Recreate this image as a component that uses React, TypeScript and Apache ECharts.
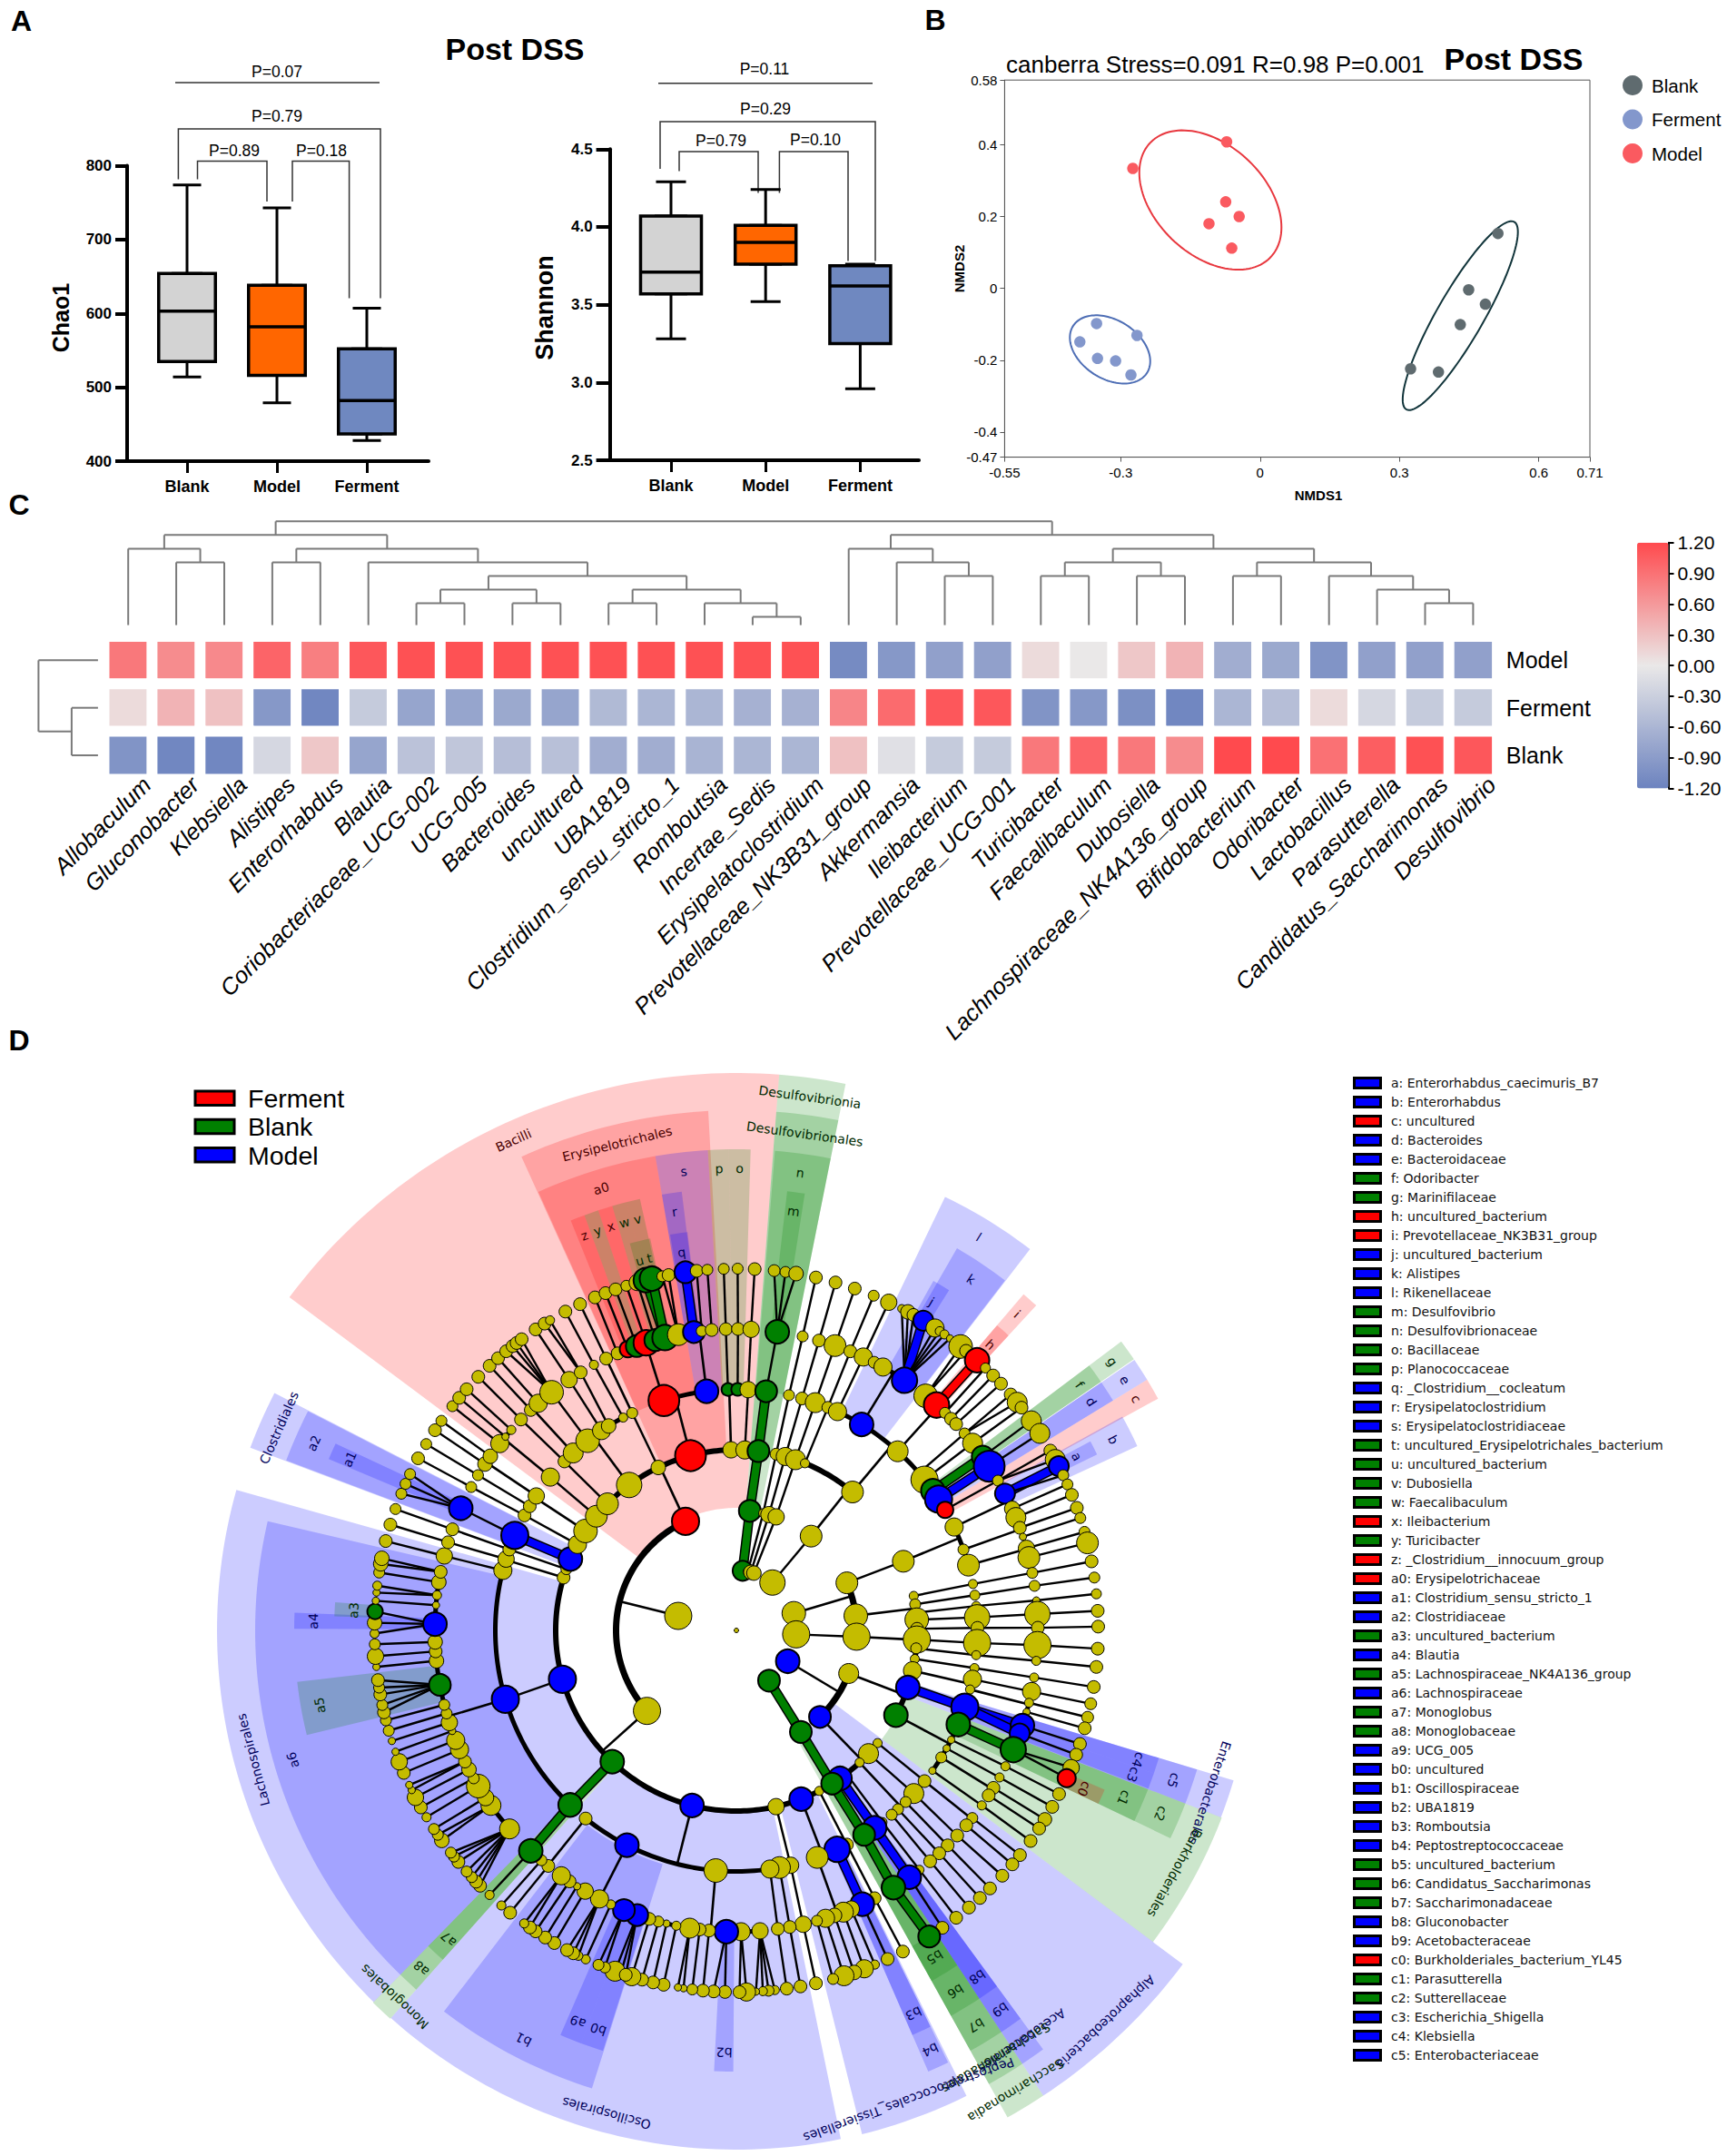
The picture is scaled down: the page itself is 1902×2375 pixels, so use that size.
import React, { useEffect, useRef } from "react";
import * as echarts from "echarts";

const FONT = "Liberation Sans";
const DEJA = "DejaVu Sans";

// ---------- Panel A ----------
const boxGroups = ["Blank", "Model", "Ferment"];
const boxColors = ["#D3D3D3", "#FF6600", "#6F88C0"];
// [low, q1, median, q3, high]
const chao1Stats = [
  [514, 535, 603, 654, 774],
  [479, 516, 582, 638, 743],
  [428, 437, 482, 552, 607],
];
const shannonStats = [
  [3.28, 3.57, 3.71, 4.07, 4.29],
  [3.52, 3.76, 3.9, 4.01, 4.24],
  [2.96, 3.25, 3.62, 3.75, 3.76],
];

// ---------- Panel B ----------
const nmdsModel = [[-0.274, 0.334], [-0.072, 0.408], [-0.074, 0.241], [-0.045, 0.2], [-0.11, 0.18], [-0.061, 0.112]];
const nmdsFerment = [[-0.352, -0.098], [-0.265, -0.131], [-0.388, -0.149], [-0.35, -0.195], [-0.311, -0.202], [-0.278, -0.241]];
const nmdsBlank = [[0.512, 0.153], [0.449, -0.004], [0.485, -0.044], [0.431, -0.101], [0.324, -0.224], [0.384, -0.233]];
// centre x, centre y, half-extent x, half-extent y, correlation, colour
const nmdsEllipses: any[] = [
  [-0.107, 0.246, 0.153, 0.194, -0.392, "#E8383F"],
  [-0.323, -0.17, 0.0865, 0.095, -0.347, "#4E6EB5"],
  [0.431, -0.076, 0.124, 0.263, 0.887, "#12353B"],
];
const nmdsXTicks = [-0.55, -0.3, 0, 0.3, 0.6, 0.71];
const nmdsYTicks = [-0.47, -0.4, -0.2, 0, 0.2, 0.4, 0.58];

// ---------- Panel C ----------
const genera = ["Allobaculum", "Gluconobacter", "Klebsiella", "Alistipes", "Enterorhabdus", "Blautia", "Coriobacteriaceae_UCG-002", "UCG-005", "Bacteroides", "uncultured", "UBA1819", "Clostridium_sensu_stricto_1", "Romboutsia", "Incertae_Sedis", "Erysipelatoclostridium", "Prevotellaceae_NK3B31_group", "Akkermansia", "Ileibacterium", "Prevotellaceae_UCG-001", "Turicibacter", "Faecalibaculum", "Dubosiella", "Lachnospiraceae_NK4A136_group", "Bifidobacterium", "Odoribacter", "Lactobacillus", "Parasutterella", "Candidatus_Saccharimonas", "Desulfovibrio"];
const heatRows = ["Model", "Ferment", "Blank"];
const heatModel = [0.85, 0.7, 0.72, 1.0, 0.8, 1.1, 1.15, 1.15, 1.15, 1.15, 1.15, 1.15, 1.15, 1.15, 1.15, -1.1, -0.95, -0.85, -0.85, 0.1, 0.0, 0.25, 0.4, -0.7, -0.75, -1.0, -0.85, -0.85, -0.85];
const heatFerment = [0.1, 0.4, 0.3, -0.95, -1.15, -0.35, -0.8, -0.8, -0.75, -0.8, -0.55, -0.6, -0.6, -0.65, -0.65, 0.75, 0.95, 1.1, 1.1, -1.0, -0.95, -1.05, -1.15, -0.6, -0.5, 0.1, -0.2, -0.35, -0.35];
const heatBlank = [-1.0, -1.15, -1.15, -0.2, 0.25, -0.8, -0.45, -0.4, -0.5, -0.48, -0.7, -0.7, -0.62, -0.6, -0.6, 0.3, -0.1, -0.35, -0.35, 0.85, 1.0, 0.85, 0.7, 1.2, 1.2, 0.9, 1.05, 1.15, 1.1];
const columnTree: any = [8,
  [7, [6, 0, [5, 1, 2]], [6, [5, 3, 4], [5, 5, [4, [3, [2, 6, 7], [2, 8, 9]], [3, [2, 10, 11], [2, 12, [1, 13, 14]]]]]]],
  [7, [6, 15, [5, 16, [4, 17, 18]]], [6, [5, [4, 19, 20], [4, 21, 22]], [5, [4, 23, 24], [4, 25, [3, 26, [2, 27, 28]]]]]],
];
const rowTree: any = [65.5, 0, [29, 1, 2]];

// ---------- Panel D : cladogram, [angle, size, colour, children]; upper-case colour = coloured branch ----------
type N = any[];
const cladeFirmicutes: N = [284, 30, "y", [
  [228, 30, "y", [
    [152.7, 10, "y", [[152.7, 14, "y", [[152.7, 14, "y", [[152.6, 14]]]]]]],
    [159, 26, "b", [
      [155.3, 28, "b", [[155.3, 26, "B", [[155.3, 14]]]]],
      [160.4, 24, "y", [[157.6, 18, "y", [[157.5, 10]]], [159.2, 22, "y", [[159.3, 20]]], [161, 16, "y", [[161, 16]]], [162.8, 20, "y", [[162.7, 22]]], [164.5, 12, "y", [[164.5, 12]]]]],
    ]],
    [167.3, 18, "y", [[167, 18, "y", [[167.2, 18, "y", [[167.3, 14]]]]]]],
    [194.2, 26, "b", [
      [169.7, 24, "y", [[169.8, 14, "y", [[169.8, 14]]]]],
      [172, 20, "y", [[172.1, 14, "y", [[172, 14]]]]],
      [184.9, 26, "y", [
        [175.5, 18, "y", [[173.9, 10], [174.9, 12], [175.8, 10], [176.9, 8]]],
        [179.1, 20, "y", [[178.4, 20], [179.5, 14]]],
        [181.9, 26, "b", [[181.8, 14], [183.6, 14]]],
        [185.2, 14, "y", [[185.3, 14]]],
        [187, 14, "y", [[187, 12]]],
        [188.9, 22, "y", [[188.4, 8], [189.3, 8]]],
      ]],
      [207, 26, "b", [
        [191.5, 10, "y", [[191.6, 14]]], [193.4, 8, "y", [[193.3, 14]]], [195, 12, "y", [[195.1, 14]]], [196.8, 14, "y", [[196.8, 20]]],
        [199.2, 24, "b", [[198.6, 14], [199.6, 22], [197.8, 14]]],
        [201.9, 24, "b", [[201.3, 12], [202.4, 12]]],
        [204.6, 10, "y", [[204.6, 10]]],
        [207, 20, "y", [[205.9, 10], [206.8, 14], [207.9, 14]]],
        [210.1, 18, "y", [[210.2, 14]]], [211.9, 8, "y", [[211.9, 14]]], [213.6, 14, "y", [[213.7, 14]]],
        [215.5, 20, "y", [[214.8, 14], [215.9, 10]]],
      ]],
      [218.7, 14, "y", [[218.6, 14, "y", [[218.7, 14]]], [220.3, 12, "y", [[220.5, 10]]]]],
    ]],
    [223.4, 26, "g", [[223.6, 26, "G", [[223, 26, "G", [[223, 10]]]]]]],
    [254.3, 30, "b", [[253.4, 30, "b", [
      [228.8, 22, "y", [[225.1, 14], [226, 14], [227, 12], [228.2, 12], [230.2, 14], [231.3, 12], [232.1, 12]]],
      [234.5, 22, "y", [[234.5, 16], [235.6, 12]]],
      [236.3, 18, "y", [[236.7, 12]]],
      [238.9, 26, "y", [[238.9, 10]]],
      [240.6, 12, "y", [[240.7, 14]]],
      [242.5, 16, "y", [[242.5, 18]]],
      [244.2, 14, "y", [[243.8, 8], [244.7, 8]]],
      [246.7, 20, "y", [[246.8, 14]]],
      [248.6, 20, "y", [[248.7, 18]]],
      [250.5, 8, "y", [[250.4, 8]]],
      [252.2, 18, "y", [[252.2, 8]]],
      [254, 12, "y", [[253.9, 12]]],
      [255.7, 12, "y", [[255.6, 12]]],
      [259.6, 24, "g", [[256.9, 14], [258.1, 12], [259.8, 14], [260.9, 12], [262.1, 14]]],
      [264.2, 16, "y", [[264.2, 8]]],
      [266, 14, "y", [[265.9, 18]]],
      [267.8, 16, "y", [[267.8, 12]]],
      [271.2, 26, "b", [[269.5, 10], [271.2, 16], [273, 17, "g"]]],
      [274.8, 8, "y", [[274.7, 8]]],
      [276.7, 10, "y", [[276, 8], [277.1, 10]]],
      [279.2, 16, "y", [[279.2, 12]]],
      [281.2, 14, "y", [[280.6, 16], [281.5, 16]]],
    ]]]],
    [287, 14, "y", [
      [284.4, 20, "y", [[284.3, 18, "y", [[284.3, 14]]]]],
      [287.2, 18, "y", [[287, 14, "y", [[287, 14]]]]],
    ]],
    [289.8, 12, "y", [[289.6, 14, "y", [[289.6, 14, "y", [[289.6, 12]]]]]]],
    [293.3, 26, "b", [[293.2, 30, "B", [[293.9, 26, "b", [[292.2, 12], [293.9, 12], [295.6, 12]]]]]]],
    [298.4, 20, "y", [[298.5, 14, "y", [[298.4, 12, "y", [[298.4, 14]]]]]]],
    [303.4, 26, "y", [
      [301, 14, "y", [[301, 12, "y", [[301, 12]]]]],
      [303.9, 18, "y", [[303.5, 16, "y", [[303.6, 14]]], [305.3, 16, "y", [[305.4, 12]]]]],
    ]],
  ]],
  [335, 30, "r", [
    [309.2, 24, "y", [[309.5, 20, "y", [[308.3, 20, "y", [[308.3, 12]]], [310, 8, "y", [[310, 14]]], [311.7, 10, "y", [[311.8, 14]]]]]]],
    [314.5, 24, "y", [[314.5, 14, "y", [[314.4, 14, "y", [[314.5, 14]]]]]]],
    [323.6, 28, "y", [
      [317.4, 22, "y", [[317, 14, "y", [[317, 14]]], [318.9, 20, "y", [[318.8, 14]]]]],
      [321.9, 26, "y", [[322.2, 26, "y", [[320.5, 14], [321.8, 14], [322.6, 14], [323.6, 14]]]]],
      [326, 20, "y", [[326.3, 18, "y", [[326.3, 14]]]]],
      [328, 16, "y", [[328.9, 14, "y", [[328, 14], [329, 10]]]]],
      [332, 10, "y", [[331.8, 10, "y", [[331.8, 14]]]]],
    ]],
    [334.4, 16, "y", [[334.4, 12, "y", [[334.4, 14, "y", [[334.4, 14]]], [336.8, 14, "y", [[337, 14]]]]]]],
    [345.3, 34, "r", [
      [342.5, 34, "r", [
        [338.9, 18, "r", [[338.8, 14]]],
        [340.7, 24, "g", [[340.5, 14]]],
        [342.6, 28, "r", [[342.3, 12]]],
        [344.4, 24, "g", [[344.1, 18]]],
        [346.3, 28, "g", [[345.5, 27, "G"], [346.5, 27, "G"]]],
        [348.9, 24, "y", [[348.2, 12], [349.2, 14]]],
      ]],
      [352.9, 26, "b", [
        [351.9, 24, "b", [[351.9, 24, "B"]]],
        [353.4, 12, "y", [[353.7, 14]]],
        [355.3, 14, "y", [[355.4, 12]]],
      ]],
    ]],
    [358.3, 18, "y", [
      [358, 14, "g", [[358, 14, "y", [[358, 12]]]]],
      [360.3, 14, "g", [[360.3, 14, "y", [[360.2, 12]]]]],
    ]],
    [362.7, 20, "y", [[362.8, 18, "y", [[362.8, 18, "y", [[362.9, 14]]]]]]],
  ]],
]];
const cladeDesulfo: N = [6, 22, "g", [[6.4, 24, "G", [[7, 24, "G", [[7.1, 24, "G", [[7.8, 26, "g", [[6, 13], [7.8, 12], [9.5, 16]]]]]]]]]]];
const cladeSmallA: N = [11, 10, "y", [[12.9, 10, "y", [[12.7, 13, "y", [[12.6, 12, "y", [[12.7, 12, "y", [[12.7, 14]]]]]]]]]]];
const cladeSmallB: N = [14, 16, "y", [[15.7, 18, "y", [[15.7, 20, "y", [[15.8, 14, "y", [[15.9, 14, "y", [[15.9, 14]]]]]]]]]]];
const cladeSmallC: N = [17, 16, "y", [[19.3, 18, "y", [[19.1, 22, "y", [[19.1, 22, "y", [[19.1, 24, "y", [[19.1, 14]]]]]]]]]]];
const cladeBacteroidetes: N = [37, 28, "y", [[38.4, 24, "y", [
  [22.3, 10, "y", [[22.3, 13, "y", [[22.2, 14, "y", [[22.3, 12]]]]]]],
  [40, 24, "y", [
    [24.8, 20, "y", [[24.9, 20, "y", [[24.9, 18]]]]],
    [31.3, 26, "b", [
      [27.2, 13],
      [29.1, 20],
      [33.9, 28, "b", [[27.2, 9], [28.3, 16], [29.3, 14], [31.1, 22, "B"], [33.3, 20], [34.2, 10], [35.1, 10], [36.2, 8]]],
    ]],
    [42, 23, "y", [
      [38.9, 26, "y", [[38.3, 26], [39.4, 14]]],
      [41.6, 28, "r", [[41.7, 27, "R"]]],
      [43.8, 12, "y", [[43.5, 11]]],
      [45.4, 14, "y", [[45.2, 14]]],
      [46.8, 14, "y", [[47, 14]]],
    ]],
    [49.2, 10, "y", [[49.2, 12, "y", [[49.3, 14], [50.9, 22]]]]],
    [51.3, 30, "y", [[51.6, 22, "y", [[52, 14]]]]],
    [54.6, 26, "g", [[54.8, 24, "G", [[54.6, 22]]]]],
    [57, 30, "b", [[57, 34, "B", [[57, 22]]]]],
    [60, 18, "r", [[60.2, 12, "y", [[60.2, 14], [61.8, 22]]]]],
  ]],
]]]];
const cladeActino: N = [73.4, 26, "y", [
  [66.7, 24, "y", [[67.5, 24, "y", [
    [64.6, 20, "y", [
      [63, 22, "b", [[63, 22, "B"], [64.6, 12]]],
      [66.2, 17, "y", [[66.2, 12]]],
      [68, 22, "y", [[68, 14]]],
    ]],
    [70.4, 12, "y", [[70.1, 14, "y", [[70.2, 14]]], [71.9, 8, "y", [[71.9, 12]]]]],
    [74.3, 24, "y", [[74.2, 18, "y", [[74.2, 12]]], [76, 24, "y", [[76, 24]]]]],
  ]]]],
  [83, 26, "y", [
    [79, 10, "y", [[78.9, 10, "y", [[79, 12, "y", [[79, 14]]]]]]],
    [81.7, 12, "y", [[81.6, 11, "y", [[81.5, 12, "y", [[81.6, 12]]]]]]],
    [84.4, 10, "y", [[84.2, 10, "y", [[84.3, 8, "y", [[84.2, 11]]]]]]],
    [86.6, 26, "y", [[86.9, 28, "y", [[86.9, 28, "y", [[86.9, 14]]]]]]],
    [89.5, 14, "y", [[89.4, 14, "y", [[89.5, 14, "y", [[89.4, 14]]]]]]],
  ]],
]];
const cladeVerruco: N = [93.8, 30, "y", [[93, 30, "y", [
  [92.9, 30, "y", [[93, 30, "y", [[92.8, 30, "y", [[92.9, 14]]]]]]],
  [95.7, 12, "y", [[95.9, 10, "y", [[95.8, 10, "y", [[95.8, 14]]]]]]],
  [99.1, 10, "y", [[99, 10, "y", [[99, 10, "y", [[99, 14]]]]]]],
  [102.9, 20, "y", [
    [101.7, 20, "y", [[101.7, 20, "y", [[101.7, 13]]]]],
    [104.2, 10, "y", [[103.9, 10, "y", [[103.9, 13]]], [105.7, 8, "y", [[105.7, 14]]]]],
  ]],
]]]];
const cladeProteo: N = [121, 26, "b", [
  [111, 22, "y", [
    [108.4, 26, "b", [[108.6, 30, "B", [[108.4, 26, "B", [[108.3, 14]]], [110, 22, "B", [[110.1, 14]]]]]]],
    [118, 26, "g", [
      [113, 26, "g", [[113.3, 28, "G", [[112.3, 18], [114.1, 20, "r"]]]]],
      [117, 8, "y", [[116.8, 10, "y", [[116.9, 14]]]]],
      [119.3, 8, "y", [[119.2, 10, "y", [[119.2, 14]]]]],
      [121.8, 12, "y", [[121.5, 14, "y", [[121.5, 15]]], [123.2, 14, "y", [[123.2, 14]]]]],
      [125.6, 8, "y", [[125.5, 10, "y", [[125.6, 14]]]]],
    ]],
  ]],
  [136, 24, "b", [
    [128.6, 10, "y", [[128.7, 14, "y", [[128.5, 12, "y", [[128.4, 14]]], [130.3, 14, "y", [[130.3, 14]]]]]]],
    [133, 22, "y", [[132.6, 22, "y", [[132.9, 14, "y", [[132.7, 14]]]]]]],
    [137, 10, "y", [
      [135.4, 12, "y", [[135.5, 14, "y", [[135.5, 14]]]]],
      [137.9, 12, "y", [[137.7, 14, "y", [[137.7, 14]]]]],
      [139.9, 12, "y", [[140, 14, "y", [[140, 14]]]]],
    ]],
    [142.5, 10, "y", [[142.7, 10, "y", [[142.6, 10, "y", [[142.6, 14]]]]]]],
    [145, 26, "b", [[145, 26, "B", [[145, 26, "B", [[145.3, 14]]]]]]],
  ]],
]];
const cladeSaccharibacteria: N = [147, 24, "g", [[147.6, 24, "G", [[148, 24, "G", [[148, 24, "G", [[148.6, 26, "G", [[147.8, 24, "G"]]]]]]]]]]];
const cladeTrees: N[] = [cladeFirmicutes, cladeDesulfo, cladeSmallA, cladeSmallB, cladeSmallC, cladeBacteroidetes, cladeActino, cladeVerruco, cladeProteo, cladeSaccharibacteria];
// ring radius, start angle, end angle, width of the extra family-level arcs
const cladeRingArcs = [[265.5, 224, 284.4, 5]];

// name, start angle, end angle, inner radius, outer radius, colour
const cladeSectors: any[] = [
  ["Bacilli", -53.3, 4.4, 135, 614, "r"], ["Desulfovibrionia", 4.4, 11.3, 135, 614, "g"],
  ["Erysipelotrichales", -24.4, -3.1, 200, 573, "r"], ["Desulfovibrionales", 4.4, 11.3, 200, 573, "g"],
  ["a0", -24.3, -9.7, 265, 530, "r"], ["s", -9.7, -3.4, 265, 530, "b"], ["p", -3.4, -0.9, 265, 530, "g"], ["o", -0.9, 1.7, 265, 530, "g"], ["n", 4.6, 11.3, 265, 530, "g"],
  ["z", -22, -20.1, 332, 487, "r"], ["y", -20.1, -18.2, 332, 487, "g"], ["x", -18.2, -16.3, 332, 487, "r"], ["w", -16.3, -14.4, 332, 487, "g"], ["v", -14.4, -12.6, 332, 487, "g"],
  ["u", -15.4, -13.9, 398, 442, "g"], ["t", -13.9, -12.4, 398, 442, "g"],
  ["r", -9.7, -7.1, 332, 487, "b"], ["q", -9.5, -7, 398, 442, "b"], ["m", 6.6, 8.9, 332, 487, "g"],
  ["l", 25.7, 37.6, 265, 530, "b"], ["k", 30, 37.5, 332, 486, "b"], ["j", 29.4, 32, 398, 442, "b"],
  ["i", 40.5, 42.7, 332, 487, "r"], ["h", 40.5, 42.7, 398, 442, "r"],
  ["g", 53.1, 55.7, 265, 530, "g"], ["f", 53.1, 55.7, 332, 486, "g"], ["e", 55.8, 58.6, 265, 530, "b"], ["d", 55.8, 58.6, 332, 486, "b"], ["c", 58.6, 61.2, 265, 530, "r"],
  ["b", 61, 65.3, 332, 486, "b"], ["a", 61.9, 64, 398, 442, "b"],
  ["Enterobacterales", 106.8, 111.1, 200, 572, "b"], ["c5", 106.8, 111.1, 265, 530, "b"], ["c4", 106.8, 108.9, 332, 486, "b"], ["c3", 108.9, 111, 332, 486, "b"],
  ["Burkholderiales", 111.1, 126.8, 200, 573, "g"], ["c2", 111.1, 115.6, 265, 530, "g"], ["c1", 111.1, 115.6, 332, 486, "g"], ["c0", 113.4, 115.6, 398, 442, "r"],
  ["Alphaproteobacteria", 126.8, 146.6, 135, 614, "b"], ["Acetobacterales", 143.8, 146.6, 200, 572, "b"], ["b9", 143.8, 146.6, 265, 530, "b"], ["b8", 143.8, 146.6, 332, 486, "b"],
  ["Saccharimonadia", 146.6, 150.9, 135, 614, "g"], ["Saccharimonadales", 146.6, 150.9, 200, 572, "g"], ["b7", 146.6, 150.9, 265, 530, "g"], ["b6", 146.6, 150.9, 332, 486, "g"], ["b5", 146.6, 150.9, 398, 442, "g"],
  ["Peptostreptococcales_Tissierellales", 153.7, 166, 200, 572, "b"], ["b4", 153.9, 156.5, 265, 530, "b"], ["b3", 153.9, 156.5, 332, 486, "b"],
  ["Oscillospirales", 168.4, 221.7, 200, 572, "b"], ["b1", 197.5, 217.5, 270, 529, "b"], ["a9", 200.6, 203.5, 332, 486, "b"], ["b0", 197.6, 200.6, 332, 486, "b"], ["b2", 180.4, 182.9, 332, 486, "b"],
  ["Monoglobales", 221.7, 224.3, 200, 573, "g"], ["a8", 221.7, 224.3, 265, 530, "g"], ["a7", 221.7, 224.3, 332, 486, "g"],
  ["Lachnospirales", 224.3, 285.7, 200, 572, "b"], ["a6", 224.3, 283.1, 265, 530, "b"], ["a5", 256.3, 263.3, 332, 487, "g"], ["a4", 270.2, 272.3, 332, 487, "b"], ["a3", 272, 274, 398, 443, "g"],
  ["Clostridiales", 290.6, 297.2, 200, 572, "b"], ["a2", 290.7, 297.1, 265, 530, "b"], ["a1", 292.8, 295, 332, 487, "b"],
];

const biomarkerLabels = ["a: Enterorhabdus_caecimuris_B7", "b: Enterorhabdus", "c: uncultured", "d: Bacteroides", "e: Bacteroidaceae", "f: Odoribacter", "g: Marinifilaceae", "h: uncultured_bacterium", "i: Prevotellaceae_NK3B31_group", "j: uncultured_bacterium", "k: Alistipes", "l: Rikenellaceae", "m: Desulfovibrio", "n: Desulfovibrionaceae", "o: Bacillaceae", "p: Planococcaceae", "q: _Clostridium__cocleatum", "r: Erysipelatoclostridium", "s: Erysipelatoclostridiaceae", "t: uncultured_Erysipelotrichales_bacterium", "u: uncultured_bacterium", "v: Dubosiella", "w: Faecalibaculum", "x: Ileibacterium", "y: Turicibacter", "z: _Clostridium__innocuum_group", "a0: Erysipelotrichaceae", "a1: Clostridium_sensu_stricto_1", "a2: Clostridiaceae", "a3: uncultured_bacterium", "a4: Blautia", "a5: Lachnospiraceae_NK4A136_group", "a6: Lachnospiraceae", "a7: Monoglobus", "a8: Monoglobaceae", "a9: UCG_005", "b0: uncultured", "b1: Oscillospiraceae", "b2: UBA1819", "b3: Romboutsia", "b4: Peptostreptococcaceae", "b5: uncultured_bacterium", "b6: Candidatus_Saccharimonas", "b7: Saccharimonadaceae", "b8: Gluconobacter", "b9: Acetobacteraceae", "c0: Burkholderiales_bacterium_YL45", "c1: Parasutterella", "c2: Sutterellaceae", "c3: Escherichia_Shigella", "c4: Klebsiella", "c5: Enterobacteriaceae"];
const biomarkerGroups = "bbrbbggrrbbbggggbbbggggrgrrbbgbgbggbbbbbbgggbbrggbbb";
const cladeLegend = [["Ferment", "#FF0000"], ["Blank", "#008000"], ["Model", "#0000FF"]];

// ---------- helpers ----------
const LEVEL_R = [0, 66, 132.5, 199, 265.5, 332, 398.5];
const ARC_W = [0, 0, 7, 6, 5, 5, 2];
const CLADE_COLOR: any = { y: "#C4BC00", r: "#FF0000", g: "#008000", b: "#0000FF" };
const SECTOR_COLOR: any = { r: "rgba(255,0,0,0.2)", g: "rgba(0,128,0,0.2)", b: "rgba(0,0,255,0.2)" };
const LABEL_COLOR: any = { r: "#4a0000", g: "#002a00", b: "#00005a" };
const norm = (t: number) => ((t % 360) + 360) % 360;

function flattenClade() {
  const nodes: any[] = [];
  const edges: any[] = cladeRingArcs.map(([r, lo, hi, w]) => ({ kind: "arc", r, lo, hi, w }));
  const walk = (n: N, level: number) => {
    const [t, s, c = "y", kids = []] = n;
    const r = LEVEL_R[level];
    nodes.push({ r, t, s, c: String(c).toLowerCase() });
    if (!kids.length) return;
    const rc = LEVEL_R[level + 1];
    const multi = kids.length > 1 && level < 5;
    if (multi) {
      const ts = kids.map((k: N) => k[0]);
      const lo = Math.min(t, ...ts);
      const hi = Math.max(t, ...ts);
      edges.push({ kind: "line", a: [r, t], b: [rc, t], w: 2.6 });
      edges.push({ kind: "arc", r: rc, lo, hi, w: ARC_W[level + 1] });
    }
    kids.forEach((k: N) => {
      const kc = k[2] || "y";
      const bar = kc !== String(kc).toLowerCase();
      if (bar) edges.push({ kind: "bar", a: [r, t], b: [rc, k[0]], color: CLADE_COLOR[String(kc).toLowerCase()] });
      else if (!multi) edges.push({ kind: "line", a: [r, t], b: [rc, k[0]], w: 2.4 });
      walk(k, level + 1);
    });
  };
  cladeTrees.forEach((n) => walk(n, 1));
  nodes.unshift({ r: 0, t: 0, s: 5, c: "y" });
  return { nodes, edges };
}

function treeSegments(node: any, base: number, out: number[][]): [number, number] {
  if (typeof node === "number") return [node, base];
  const [h, a, b] = node;
  const [pa, ha] = treeSegments(a, base, out);
  const [pb, hb] = treeSegments(b, base, out);
  out.push([pa, ha, pa, h], [pb, hb, pb, h], [pa, h, pb, h]);
  return [(pa + pb) / 2, h];
}

const polylineEl = (points: number[][], stroke = "#333", lineWidth = 1.5) => ({
  type: "polyline", shape: { points }, style: { stroke, lineWidth, fill: "none" }, silent: true,
});
const textEl = (text: string, x: number, y: number, fontSize: number, extra: any = {}, rotation = 0) => ({
  type: "text", x, y, rotation, silent: true,
  style: { text, fontSize, fontFamily: FONT, fill: "#000", align: "center", verticalAlign: "middle", ...extra },
});

function buildGraphic() {
  const els: any[] = [];
  const bold = { fontWeight: "bold" };
  els.push(textEl("A", 23.5, 22.5, 32, bold), textEl("B", 1030, 22, 32, bold), textEl("C", 21, 556, 32, bold), textEl("D", 21, 1146, 32, bold));
  els.push(textEl("Post DSS", 567, 54, 34, bold), textEl("Post DSS", 1667, 65, 34, bold));
  els.push(textEl("canberra Stress=0.091 R=0.98 P=0.001", 1108, 71, 26, { align: "left" }));
  els.push(textEl("Chao1", 67, 350, 25, bold, Math.PI / 2), textEl("Shannon", 599.5, 339, 27, bold, Math.PI / 2));
  els.push(textEl("NMDS1", 1452, 545, 15, bold), textEl("NMDS2", 1056, 296, 15, bold, Math.PI / 2));
  // Significance brackets
  const pf = 17.5;
  els.push(polylineEl([[193, 91], [418, 91]]), textEl("P=0.07", 305, 79, pf));
  els.push(polylineEl([[196.4, 197.5], [196.4, 142], [419, 142], [419, 328.6]]), textEl("P=0.79", 305, 127.5, pf));
  els.push(polylineEl([[217.5, 197.5], [217.5, 177.5], [294, 177.5], [294, 222]]), textEl("P=0.89", 258, 166, pf));
  els.push(polylineEl([[322, 222], [322, 177.5], [384.6, 177.5], [384.6, 328.6]]), textEl("P=0.18", 354, 166, pf));
  els.push(polylineEl([[725, 91.8], [961, 91.8]]), textEl("P=0.11", 842, 76, pf));
  els.push(polylineEl([[727, 186], [727, 134], [964, 134], [964, 287.5]]), textEl("P=0.29", 843, 120, pf));
  els.push(polylineEl([[748, 188.6], [748, 167], [835, 167], [835, 212.5]]), textEl("P=0.79", 794, 154.6, pf));
  els.push(polylineEl([[858.4, 212.5], [858.4, 167], [934, 167], [934, 287.5]]), textEl("P=0.10", 898, 153.6, pf));
  // Cladogram group legend
  cladeLegend.forEach(([name, color], i) => {
    els.push({ type: "rect", silent: true, shape: { x: 215, y: 1202 + i * 31.3, width: 43, height: 15.5 }, style: { fill: color, stroke: "#000", lineWidth: 3 } });
    els.push(textEl(name, 273, 1210 + i * 31.3, 28.5, { align: "left" }));
  });
  // Biomarker list
  biomarkerLabels.forEach((label, i) => {
    const y = 1193 + i * 21;
    const c = CLADE_COLOR[biomarkerGroups[i]];
    els.push({ type: "rect", silent: true, shape: { x: 1491.5, y: y - 5.5, width: 29, height: 11 }, style: { fill: c, stroke: "#000", lineWidth: 3 } });
    els.push(textEl(label, 1532, y, 14, { align: "left", fontFamily: DEJA, fill: "#111" }));
  });
  return els;
}

const axisFont = { fontFamily: FONT, color: "#000" };

function boxAxes(grid: number, min: number, max: number) {
  const visible = {
    type: "value", gridIndex: grid, min, max, position: "bottom",
    axisLine: { show: true, onZero: false, lineStyle: { color: "#000", width: 4 } },
    axisTick: { show: true, length: 13, customValues: [0, 1, 2], lineStyle: { color: "#000", width: 3 } },
    axisLabel: { show: true, customValues: [0, 1, 2], margin: 19, fontSize: 18, fontWeight: "bold", ...axisFont, formatter: (v: number) => boxGroups[v] },
    splitLine: { show: false },
  };
  const hidden = { type: "value", gridIndex: grid, min, max, show: false, splitLine: { show: false } };
  return [visible, hidden];
}

function boxSeries(stats: number[][], xVisible: number, xHidden: number, yIdx: number, capWidth: number, bodyWidth: number) {
  const caps = stats.map((s, i) => ({
    value: [i, ...s],
    itemStyle: { color: "transparent", borderColor: "#000", borderWidth: 3 },
  }));
  const bodies = stats.map((s, i) => ({
    value: [i, s[1], s[1], s[2], s[3], s[3]],
    itemStyle: { color: boxColors[i], borderColor: "#000", borderWidth: 3.5 },
  }));
  return [
    { type: "boxplot", xAxisIndex: xVisible, yAxisIndex: yIdx, boxWidth: [capWidth, capWidth], data: caps, silent: true },
    { type: "boxplot", xAxisIndex: xHidden, yAxisIndex: yIdx, boxWidth: [bodyWidth, bodyWidth], data: bodies, silent: true },
  ];
}

function buildOption() {
  const { nodes, edges } = flattenClade();
  const topSegs: number[][] = [];
  treeSegments(columnTree, 0.4, topSegs);
  const leftRaw: number[][] = [];
  treeSegments(rowTree, 0, leftRaw);
  const leftSegs = leftRaw.map(([p1, h1, p2, h2]) => [h1, p1, h2, p2]);
  const heatData: number[][] = [];
  [heatModel, heatFerment, heatBlank].forEach((row, r) => row.forEach((v, c) => heatData.push([c, r, v])));

  const segmentSeries = (data: number[][], x: number, y: number) => ({
    type: "custom", xAxisIndex: x, yAxisIndex: y, silent: true, data,
    encode: { x: [0, 2], y: [1, 3] },
    renderItem: (_: any, api: any) => ({
      type: "line",
      shape: (() => {
        const a = api.coord([api.value(0), api.value(1)]);
        const b = api.coord([api.value(2), api.value(3)]);
        return { x1: a[0], y1: a[1], x2: b[0], y2: b[1] };
      })(),
      style: { stroke: "#7A7A7A", lineWidth: 2, fill: "none" },
    }),
  });

  const nmdsScatter = (name: string, data: number[][], color: string) => ({
    name, type: "scatter", xAxisIndex: 4, yAxisIndex: 2, data, symbolSize: 12.5, silent: true, itemStyle: { color, opacity: 1 },
  });

  const series: any[] = [
    ...boxSeries(chao1Stats, 0, 1, 0, 31, 62.5),
    ...boxSeries(shannonStats, 2, 3, 1, 33, 67),
    nmdsScatter("Blank", nmdsBlank, "#5F6B6F"),
    nmdsScatter("Ferment", nmdsFerment, "#8397CC"),
    nmdsScatter("Model", nmdsModel, "#FA5A60"),
    {
      type: "custom", xAxisIndex: 4, yAxisIndex: 2, silent: true, data: nmdsEllipses.map((e) => [e[0], e[1]]),
      renderItem: (p: any, api: any) => {
        const [cx, cy, a, b, rho, color] = nmdsEllipses[p.dataIndex];
        const phi = Math.acos(rho);
        const points: number[][] = [];
        for (let d = 0; d < 360; d += 3) {
          const t = (d * Math.PI) / 180;
          points.push(api.coord([cx + a * Math.cos(t), cy + b * Math.cos(t - phi)]));
        }
        return { type: "polygon", shape: { points }, style: { stroke: color, lineWidth: 2, fill: "none" } };
      },
    },
    {
      type: "heatmap", xAxisIndex: 5, yAxisIndex: 3, data: heatData, silent: true,
      itemStyle: { borderColor: "#FFFFFF", borderWidth: 12 },
    },
    segmentSeries(topSegs, 7, 5),
    segmentSeries(leftSegs, 8, 6),
    {
      type: "custom", coordinateSystem: "polar", silent: true, z: 1, data: cladeSectors.map((s) => [s[4], norm((s[1] + s[2]) / 2)]),
      renderItem: (p: any, api: any) => {
        const [, t0, t1, r0, r1, c] = cladeSectors[p.dataIndex];
        const points: number[][] = [];
        const steps = Math.max(2, Math.ceil((t1 - t0) / 1));
        for (let i = 0; i <= steps; i++) points.push(api.coord([r1, norm(t0 + ((t1 - t0) * i) / steps)]));
        for (let i = steps; i >= 0; i--) points.push(api.coord([r0, norm(t0 + ((t1 - t0) * i) / steps)]));
        return { type: "polygon", shape: { points }, style: { fill: SECTOR_COLOR[c], stroke: "none" } };
      },
    },
    {
      type: "custom", coordinateSystem: "polar", silent: true, z: 2, data: edges.map(() => [0, 0]),
      renderItem: (p: any, api: any) => {
        const e = edges[p.dataIndex];
        const pt = (q: number[]) => api.coord([q[0], norm(q[1])]);
        if (e.kind === "arc") {
          const points: number[][] = [];
          const steps = Math.max(1, Math.ceil(e.hi - e.lo));
          for (let i = 0; i <= steps; i++) points.push(api.coord([e.r, norm(e.lo + ((e.hi - e.lo) * i) / steps)]));
          return { type: "polyline", shape: { points }, style: { stroke: "#000", lineWidth: e.w, fill: "none" } };
        }
        const points = [pt(e.a), pt(e.b)];
        if (e.kind === "bar") {
          return {
            type: "group",
            children: [
              { type: "polyline", shape: { points }, style: { stroke: "#000", lineWidth: 11, fill: "none" } },
              { type: "polyline", shape: { points }, style: { stroke: e.color, lineWidth: 8, fill: "none" } },
            ],
          };
        }
        return { type: "polyline", shape: { points }, style: { stroke: "#000", lineWidth: e.w, fill: "none" } };
      },
    },
    {
      type: "scatter", coordinateSystem: "polar", silent: true, z: 3,
      data: nodes.map((n) => ({
        value: [n.r, norm(n.t)],
        symbolSize: n.s,
        itemStyle: { color: CLADE_COLOR[n.c], borderColor: "#000", borderWidth: n.c === "y" ? 1 : 2, opacity: 1 },
      })),
    },
    {
      type: "custom", coordinateSystem: "polar", silent: true, z: 4, data: cladeSectors.map((s) => [s[4], norm((s[1] + s[2]) / 2)]),
      renderItem: (p: any, api: any) => {
        const [name, t0, t1, , r1, c] = cladeSectors[p.dataIndex];
        const mid = (t0 + t1) / 2;
        const pos = api.coord([r1 - 21, norm(mid)]);
        return {
          type: "text", x: pos[0], y: pos[1], rotation: (-mid * Math.PI) / 180,
          style: { text: name, fontSize: 14, fontFamily: DEJA, fill: LABEL_COLOR[c], align: "center", verticalAlign: "middle" },
        };
      },
    },
  ];
  const heatIdx = series.findIndex((s) => s.type === "heatmap");

  const hiddenAxis = (gridIndex: number, extra: any = {}) => ({ type: "value", gridIndex, show: false, splitLine: { show: false }, ...extra });

  return {
    animation: false,
    backgroundColor: "#FFFFFF",
    textStyle: { fontFamily: FONT },
    grid: [
      { left: 140, top: 182.5, width: 332, height: 325.5 },
      { left: 671.6, top: 164.3, width: 340.4, height: 342.7 },
      { left: 1106.4, top: 88.2, width: 644.6, height: 415.4, show: true, borderColor: "#555", borderWidth: 1, backgroundColor: "transparent" },
      { left: 114.75, top: 701.2, width: 1534.1, height: 157 },
      { left: 135.25, top: 701.2, width: 1534.1, height: 157 },
      { left: 114.75, top: 573, width: 1534.1, height: 121.6 },
      { left: 42.4, top: 701.2, width: 65.5, height: 157 },
      { left: 1837.5, top: 597.8, width: 1, height: 270.6 },
    ],
    polar: { center: [811, 1796], radius: 700 },
    angleAxis: { type: "value", min: 0, max: 360, startAngle: 90, clockwise: true, show: false },
    radiusAxis: { type: "value", min: 0, max: 700, show: false },
    xAxis: [
      ...boxAxes(0, -0.6667, 2.687),
      ...boxAxes(1, -0.6467, 2.62),
      {
        type: "value", gridIndex: 2, min: -0.55, max: 0.71,
        axisLine: { show: true, onZero: false, lineStyle: { color: "#555", width: 1 } },
        axisTick: { show: true, customValues: nmdsXTicks, length: 5, lineStyle: { color: "#555" } },
        axisLabel: { customValues: nmdsXTicks, fontSize: 15, margin: 9, ...axisFont, formatter: (v: number) => String(v) },
        splitLine: { show: false },
      },
      { type: "category", gridIndex: 3, data: genera, show: false, splitLine: { show: false } },
      {
        type: "category", gridIndex: 4, data: genera, position: "bottom", z: 10,
        axisLine: { show: false }, axisTick: { show: false }, splitLine: { show: false },
        axisLabel: { interval: 0, rotate: 45, fontSize: 25.5, fontStyle: "italic", margin: 2, ...axisFont },
      },
      hiddenAxis(5, { min: -0.5, max: 28.5 }),
      hiddenAxis(6, { min: 0, max: 65.5, inverse: true }),
      hiddenAxis(7, { min: 0, max: 1 }),
    ],
    yAxis: [
      {
        type: "value", gridIndex: 0, min: 400, max: 800, interval: 100,
        axisLine: { show: true, onZero: false, lineStyle: { color: "#000", width: 4 } },
        axisTick: { show: true, length: 13, lineStyle: { color: "#000", width: 4 } },
        axisLabel: { fontSize: 17, fontWeight: "bold", margin: 17, ...axisFont },
        splitLine: { show: false },
      },
      {
        type: "value", gridIndex: 1, min: 2.5, max: 4.5, interval: 0.5,
        axisLine: { show: true, onZero: false, lineStyle: { color: "#000", width: 4 } },
        axisTick: { show: true, length: 15, lineStyle: { color: "#000", width: 4 } },
        axisLabel: { fontSize: 17, fontWeight: "bold", margin: 19, ...axisFont, formatter: (v: number) => v.toFixed(1) },
        splitLine: { show: false },
      },
      {
        type: "value", gridIndex: 2, min: -0.47, max: 0.58,
        axisLine: { show: true, onZero: false, lineStyle: { color: "#555", width: 1 } },
        axisTick: { show: true, customValues: nmdsYTicks, length: 5, lineStyle: { color: "#555" } },
        axisLabel: { customValues: nmdsYTicks, fontSize: 15, margin: 8, ...axisFont, formatter: (v: number) => String(v) },
        splitLine: { show: false },
      },
      {
        type: "category", gridIndex: 3, data: heatRows, inverse: true, position: "right", z: 10,
        axisLine: { show: false }, axisTick: { show: false }, splitLine: { show: false },
        axisLabel: { fontSize: 25, margin: 10, ...axisFont },
      },
      hiddenAxis(4, { min: 0, max: 1 }),
      hiddenAxis(5, { min: 0, max: 8.0875 }),
      hiddenAxis(6, { min: -0.5, max: 2.5, inverse: true }),
      {
        type: "value", gridIndex: 7, min: -1.2, max: 1.2, interval: 0.3, position: "left",
        axisLine: { show: true, onZero: false, lineStyle: { color: "#000", width: 2 } },
        axisTick: { show: true, inside: true, length: 6, lineStyle: { color: "#000", width: 2 } },
        axisLabel: { inside: true, margin: 10, fontSize: 21, ...axisFont, formatter: (v: number) => v.toFixed(2) },
        splitLine: { show: false },
      },
    ],
    visualMap: {
      type: "continuous", min: -1.2, max: 1.2, seriesIndex: [heatIdx], left: 1803, top: 597.8, itemWidth: 34.5, itemHeight: 270.6,
      padding: 0, calculable: false, text: ["", ""], showLabel: false, hoverLink: false,
      inRange: { color: ["#6C83BF", "#EAE8E8", "#FF4A4E"] },
    },
    legend: {
      data: ["Blank", "Ferment", "Model"], orient: "vertical", left: 1787, top: 83, itemWidth: 22, itemHeight: 22, itemGap: 15.5, icon: "circle",
      padding: 0, textStyle: { fontSize: 20.5, fontFamily: FONT, color: "#000", padding: [0, 0, 0, 5] }, selectedMode: false,
    },
    graphic: { elements: buildGraphic() },
    series,
  };
}

export default function App() {
  const ref = useRef<HTMLDivElement>(null);
  useEffect(() => {
    if (!ref.current) return;
    const chart = echarts.init(ref.current, undefined, { renderer: "svg" });
    chart.setOption(buildOption() as any);
    return () => chart.dispose();
  }, []);
  return <div ref={ref} style={{ position: "absolute", left: 0, top: 0, width: 1902, height: 2375, background: "#fff" }} />;
}
